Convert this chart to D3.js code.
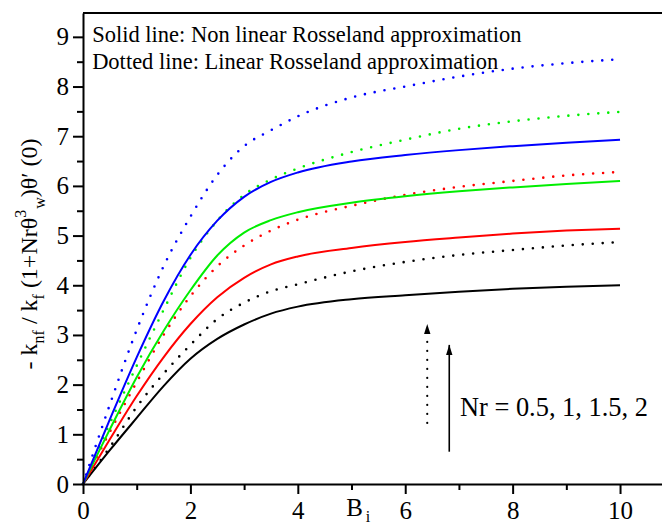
<!DOCTYPE html>
<html>
<head>
<meta charset="utf-8">
<script src="https://cdn.jsdelivr.net/npm/d3@7"></script>
<style>
  body { margin: 0; background: #fff; }
  svg { display: block; }
  svg text { font-family: "Liberation Serif", "Times New Roman", serif; fill: #000; }
</style>
</head>
<body>
<div id="chart"></div>
<script>
// Biot number values (x axis)
const biValues = [0, 0.5, 1, 1.5, 2, 2.5, 3, 3.5, 4, 5, 6, 7, 8, 9, 10];

// solid lines : non linear Rosseland approximation, Nr = 0.5, 1, 1.5, 2
const solidNr05 = [0, 0.68, 1.33, 1.97, 2.52, 2.92, 3.21, 3.43, 3.57, 3.72, 3.8, 3.87, 3.93, 3.97, 4.0];
const solidNr1  = [0, 0.9, 1.77, 2.55, 3.22, 3.76, 4.15, 4.42, 4.58, 4.75, 4.87, 4.96, 5.04, 5.1, 5.14];
const solidNr15 = [0, 1.1, 2.15, 3.08, 3.9, 4.6, 5.06, 5.31, 5.47, 5.66, 5.79, 5.89, 5.97, 6.04, 6.1];
const solidNr2  = [0, 1.3, 2.55, 3.68, 4.61, 5.3, 5.78, 6.08, 6.27, 6.49, 6.62, 6.72, 6.8, 6.87, 6.93];

// dotted lines : linear Rosseland approximation
const dottedNr05 = [0, 0.74, 1.55, 2.22, 2.8, 3.32, 3.65, 3.88, 4.02, 4.28, 4.47, 4.61, 4.71, 4.8, 4.87];
const dottedNr1  = [0, 1.05, 2.05, 3.0, 3.78, 4.38, 4.8, 5.1, 5.32, 5.6, 5.82, 5.98, 6.1, 6.21, 6.28];
const dottedNr15 = [0, 1.22, 2.38, 3.5, 4.55, 5.3, 5.82, 6.13, 6.35, 6.68, 6.93, 7.15, 7.3, 7.41, 7.49];
const dottedNr2  = [0, 1.6, 3.1, 4.38, 5.38, 6.22, 6.8, 7.12, 7.4, 7.78, 8.0, 8.2, 8.36, 8.47, 8.55];

const xMajorTicks = [0, 2, 4, 6, 8, 10];
const xMinorTicks = [1, 3, 5, 7, 9];
const yMajorTicks = [0, 1, 2, 3, 4, 5, 6, 7, 8, 9];
const yMinorTicks = [0.5, 1.5, 2.5, 3.5, 4.5, 5.5, 6.5, 7.5, 8.5];

const legendLines = ["Solid line: Non linear Rosseland approximation",
                     "Dotted line: Linear Rosseland approximation"];
const nrLabel = "Nr = 0.5, 1, 1.5, 2";

const width = 662, height = 529;
const colors = ["#000000", "#ff0000", "#00ee00", "#0000ff"];

const x = d3.scaleLinear().domain([0, 10.8]).range([83, 663]);
const y = d3.scaleLinear().domain([0, 9.48]).range([484, 13]);

const svg = d3.select("#chart").append("svg")
    .attr("width", width)
    .attr("height", height);

// arrow head
svg.append("defs").append("marker")
    .attr("id", "head")
    .attr("viewBox", "0 0 10 10")
    .attr("refX", 10).attr("refY", 5)
    .attr("markerWidth", 10).attr("markerHeight", 10)
    .attr("markerUnits", "userSpaceOnUse")
    .attr("orient", "auto")
  .append("path")
    .attr("d", "M0,1.8 L10,5 L0,8.2 Z")
    .attr("fill", "#000");

const line = d3.line()
    .x((d, i) => x(biValues[i]))
    .y(d => y(d))
    .curve(d3.curveMonotoneX);

const solids = [solidNr05, solidNr1, solidNr15, solidNr2];
const dotteds = [dottedNr05, dottedNr1, dottedNr15, dottedNr2];

svg.append("g")
    .selectAll("path")
    .data(dotteds)
    .join("path")
    .attr("d", line)
    .attr("fill", "none")
    .attr("stroke", (d, i) => colors[i])
    .attr("stroke-width", 2.6)
    .attr("stroke-linecap", "round")
    .attr("stroke-dasharray", "0 10");

svg.append("g")
    .selectAll("path")
    .data(solids)
    .join("path")
    .attr("d", line)
    .attr("fill", "none")
    .attr("stroke", (d, i) => colors[i])
    .attr("stroke-width", 2);

// axes
function styleAxis(g) {
    g.attr("font-family", null).attr("font-size", 25);
    g.select(".domain").attr("stroke-width", 2);
    g.selectAll(".tick line").attr("stroke-width", 2);
}

svg.append("g")
    .attr("transform", `translate(0,${y(0)})`)
    .call(d3.axisBottom(x).tickValues(xMinorTicks).tickSize(6).tickSizeOuter(0).tickFormat(""))
    .call(g => g.select(".domain").remove())
    .call(styleAxis);

svg.append("g")
    .attr("transform", `translate(0,${y(0)})`)
    .call(d3.axisBottom(x).tickValues(xMajorTicks).tickSize(10).tickSizeOuter(0).tickPadding(7).tickFormat(d3.format("d")))
    .call(styleAxis);

svg.append("g")
    .attr("transform", `translate(${x(0)},0)`)
    .call(d3.axisLeft(y).tickValues(yMinorTicks).tickSize(6).tickSizeOuter(0).tickFormat(""))
    .call(g => g.select(".domain").remove())
    .call(styleAxis);

svg.append("g")
    .attr("transform", `translate(${x(0)},0)`)
    .call(d3.axisLeft(y).tickValues(yMajorTicks).tickSize(10).tickSizeOuter(0).tickPadding(4).tickFormat(d3.format("d")))
    .call(styleAxis);

// top frame line
svg.append("line")
    .attr("x1", x(0)).attr("x2", width)
    .attr("y1", y(9.48)).attr("y2", y(9.48))
    .attr("stroke", "#000")
    .attr("stroke-width", 2);

// legend text
svg.append("g")
    .attr("font-size", 22.5)
    .selectAll("text")
    .data(legendLines)
    .join("text")
    .attr("x", x(0.17))
    .attr("y", (d, i) => y(8.9 - i * 0.55))
    .text(d => d);

// arrows
svg.append("line")
    .attr("x1", x(6.41)).attr("x2", x(6.41))
    .attr("y1", y(1.23)).attr("y2", y(3.22))
    .attr("stroke", "#000")
    .attr("stroke-width", 2.2)
    .attr("stroke-linecap", "round")
    .attr("stroke-dasharray", "0 9")
    .attr("marker-end", "url(#head)");

svg.append("line")
    .attr("x1", x(6.82)).attr("x2", x(6.82))
    .attr("y1", y(0.65)).attr("y2", y(2.8))
    .attr("stroke", "#000")
    .attr("stroke-width", 1.6)
    .attr("marker-end", "url(#head)");

svg.append("text")
    .attr("x", x(7.02))
    .attr("y", y(1.37))
    .attr("font-size", 26.4)
    .text(nrLabel);

// x axis title B_i
const xt = svg.append("text")
    .attr("x", x(4.9))
    .attr("y", 516)
    .attr("font-size", 25);
xt.append("tspan").text("B");
xt.append("tspan").attr("font-size", 16).attr("dy", 6).attr("dx", 3).text("i");

// y axis title
const yt = svg.append("text")
    .attr("transform", `translate(37,${y(4.63)}) rotate(-90)`)
    .attr("text-anchor", "middle")
    .attr("font-size", 24);
yt.append("tspan").text("- k");
yt.append("tspan").attr("font-size", 16).attr("dy", 7).text("nf");
yt.append("tspan").attr("dy", -7).text(" / k");
yt.append("tspan").attr("font-size", 16).attr("dy", 7).text("f");
yt.append("tspan").attr("dy", -7).text(" (1+Nrθ");
yt.append("tspan").attr("font-size", 16).attr("dy", -11).text("3");
yt.append("tspan").attr("font-size", 16).attr("dy", 19).attr("dx", 1).text("w");
yt.append("tspan").attr("dy", -8).text(")θ′ (0)");
</script>
</body>
</html>
